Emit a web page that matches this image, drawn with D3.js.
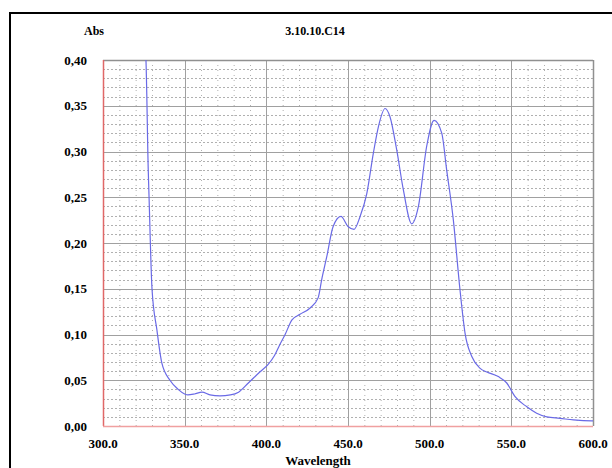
<!DOCTYPE html>
<html><head><meta charset="utf-8">
<script src="https://cdn.jsdelivr.net/npm/d3@7"></script>
<style>html,body{margin:0;padding:0;background:#fff;}svg{display:block;}</style>
</head><body>
<svg id="chart" width="612" height="468"></svg>
<script>
// Data
const wavelength = [325, 326.3, 327.7, 328.2, 330, 333, 336, 341, 346, 350, 352, 356, 360.6, 365.5, 371.6, 378, 383, 389, 396, 401, 405, 408, 411.5, 415.7, 420.6, 426.8, 431.7, 433.9, 437, 440.9, 445.7, 450, 453.7, 457.4, 461.5, 465.5, 468.6, 472.7, 475.7, 479.8, 483.9, 489, 493.1, 498.2, 502.7, 507.4, 510.4, 514.5, 518.5, 521.7, 525.8, 530.9, 535, 542, 547.2, 552.3, 559.5, 565.5, 571.7, 579.8, 588, 599.2, 600];
const absorbance = [0.43, 0.40, 0.28, 0.25, 0.15, 0.105, 0.069, 0.050, 0.040, 0.035, 0.034, 0.035, 0.037, 0.034, 0.033, 0.034, 0.037, 0.047, 0.059, 0.067, 0.077, 0.088, 0.100, 0.116, 0.122, 0.129, 0.140, 0.160, 0.185, 0.218, 0.229, 0.218, 0.215, 0.229, 0.254, 0.298, 0.327, 0.347, 0.338, 0.302, 0.258, 0.221, 0.240, 0.306, 0.334, 0.320, 0.280, 0.225, 0.150, 0.101, 0.076, 0.063, 0.059, 0.054, 0.047, 0.032, 0.021, 0.014, 0.010, 0.0084, 0.0066, 0.0055, 0.0055];
const xTicks = [300, 350, 400, 450, 500, 550, 600];
const yTicks = [0, 0.05, 0.10, 0.15, 0.20, 0.25, 0.30, 0.35, 0.40];
const xTickLabels = ["300.0", "350.0", "400.0", "450.0", "500.0", "550.0", "600.0"];
const yTickLabels = ["0,00", "0,05", "0,10", "0,15", "0,20", "0,25", "0,30", "0,35", "0,40"];
const titleText = "3.10.10.C14";
const yAxisTitle = "Abs";
const xAxisTitle = "Wavelength";

const svg = d3.select("#chart");
const L = 103, R = 593, T = 60, B = 426;
const x = d3.scaleLinear().domain([300, 600]).range([L, R]);
const y = d3.scaleLinear().domain([0, 0.40]).range([B, T]);
const font = "'Liberation Serif','Times New Roman',serif";

// outer frame
svg.append("rect").attr("x", 10).attr("y", 13).attr("width", 640).attr("height", 500)
  .attr("fill", "none").attr("stroke", "#000").attr("stroke-width", 2);

// minor grid
const minorX = d3.range(300, 601, 10).filter(v => v % 50 !== 0);
const minorY = d3.range(0, 41, 1).map(v => v / 100).filter((v, i) => i % 5 !== 0);
const g = svg.append("g");
g.selectAll(".mx").data(minorX).join("line")
  .attr("x1", d => x(d) + 0.5).attr("x2", d => x(d) + 0.5).attr("y1", T).attr("y2", B)
  .attr("stroke", "#b0b0b0").attr("stroke-width", 1).attr("stroke-dasharray", "1,4");
g.selectAll(".my").data(minorY).join("line")
  .attr("y1", d => Math.round(y(d)) + 0.5).attr("y2", d => Math.round(y(d)) + 0.5).attr("x1", L).attr("x2", R)
  .attr("stroke", "#b0b0b0").attr("stroke-width", 1).attr("stroke-dasharray", "2,2");

// major grid
g.selectAll(".Mx").data(xTicks.slice(1, -1)).join("line")
  .attr("x1", d => Math.round(x(d)) + 0.5).attr("x2", d => Math.round(x(d)) + 0.5).attr("y1", T).attr("y2", B)
  .attr("stroke", "#a0a0a0").attr("stroke-width", 1);
g.selectAll(".My").data(yTicks.slice(1, -1)).join("line")
  .attr("y1", d => Math.round(y(d)) + 0.5).attr("y2", d => Math.round(y(d)) + 0.5).attr("x1", L).attr("x2", R)
  .attr("stroke", "#a0a0a0").attr("stroke-width", 1);

// plot borders
svg.append("line").attr("x1", L).attr("x2", R).attr("y1", T + 0.5).attr("y2", T + 0.5).attr("stroke", "#909090").attr("stroke-width", 1.5);
svg.append("line").attr("x1", R + 0.5).attr("x2", R + 0.5).attr("y1", T).attr("y2", B).attr("stroke", "#909090").attr("stroke-width", 1.5);
svg.append("line").attr("x1", L + 0.5).attr("x2", L + 0.5).attr("y1", T).attr("y2", B).attr("stroke", "#e06868").attr("stroke-width", 1.5);
svg.append("line").attr("x1", L).attr("x2", R).attr("y1", B + 0.5).attr("y2", B + 0.5).attr("stroke", "#f0a0a0").attr("stroke-width", 1.5);

// clip + curve
svg.append("clipPath").attr("id", "clip").append("rect")
  .attr("x", L).attr("y", T).attr("width", R - L).attr("height", B - T);
const pts = wavelength.map((w, i) => [w, absorbance[i]]);
svg.append("path").datum(pts)
  .attr("clip-path", "url(#clip)")
  .attr("fill", "none").attr("stroke", "#6a6ae6").attr("stroke-width", 1.2)
  .attr("d", d3.line().x(d => x(d[0])).y(d => y(d[1])).curve(d3.curveMonotoneX));

// axis labels
svg.selectAll(".xl").data(xTicks).join("text")
  .attr("x", d => x(d)).attr("y", 448).attr("text-anchor", "middle")
  .attr("font-family", font).attr("font-weight", "bold").attr("font-size", 13)
  .text((d, i) => xTickLabels[i]);
svg.selectAll(".yl").data(yTicks).join("text")
  .attr("x", 87).attr("y", d => y(d) + 4.5).attr("text-anchor", "end")
  .attr("font-family", font).attr("font-weight", "bold").attr("font-size", 13)
  .text((d, i) => yTickLabels[i]);

svg.append("text").attr("x", 94).attr("y", 35).attr("text-anchor", "middle")
  .attr("font-family", font).attr("font-weight", "bold").attr("font-size", 12).text(yAxisTitle);
svg.append("text").attr("x", 315).attr("y", 35).attr("text-anchor", "middle")
  .attr("font-family", font).attr("font-weight", "bold").attr("font-size", 12).text(titleText);
svg.append("text").attr("x", 318).attr("y", 465).attr("text-anchor", "middle")
  .attr("font-family", font).attr("font-weight", "bold").attr("font-size", 13).text(xAxisTitle);
</script>
</body></html>
